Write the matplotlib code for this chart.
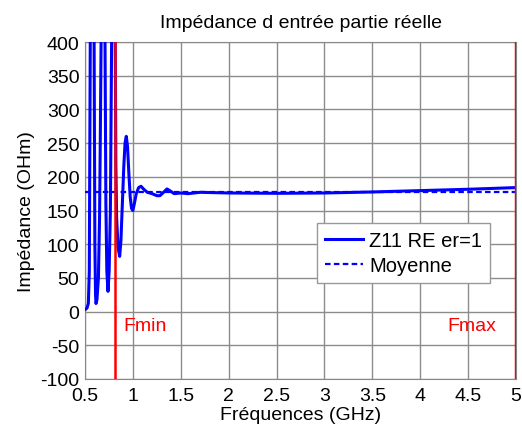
import matplotlib
matplotlib.use("Agg")
import matplotlib.pyplot as plt
from matplotlib.ticker import MultipleLocator

plt.rcParams["font.family"] = ["Liberation Sans", "DejaVu Sans"]
plt.rcParams["axes.unicode_minus"] = False

freq = [0.50, 0.52, 0.535, 0.545, 0.555, 0.565, 0.575, 0.585, 0.595, 0.603, 0.61, 0.615,
        0.625, 0.64, 0.652, 0.66, 0.668, 0.678, 0.688, 0.698, 0.709, 0.718, 0.728, 0.74,
        0.752, 0.765, 0.778, 0.79, 0.80, 0.81, 0.816, 0.822, 0.83, 0.845, 0.862, 0.875,
        0.89, 0.905, 0.918, 0.931, 0.944, 0.958, 0.972, 0.986, 1.0, 1.015, 1.035, 1.06,
        1.085, 1.11, 1.15, 1.2, 1.25, 1.283, 1.32, 1.356, 1.39, 1.43, 1.5, 1.575, 1.7,
        2.0, 2.5, 3.0, 3.5, 4.0, 4.5, 5.0]
z11_re = [3, 5, 12, 60, 400, 900, 1200, 900, 400, 100, 25, 12,
          18, 50, 140, 260, 400, 900, 1200, 900, 400, 160, 60, 30,
          60, 150, 400, 900, 1200, 800, 400, 220, 140, 95, 82, 105,
          160, 215, 250, 260, 245, 205, 170, 153, 150, 160, 175, 184,
          186, 182, 177, 175, 172, 172, 177, 182, 179, 175, 176, 175, 177,
          176, 175.5, 176, 177.5, 179.5, 181.5, 184]

moyenne = 177
f_min = 0.815
f_max = 5.0

fig = plt.figure(figsize=(5.22, 4.31), dpi=100)
ax = fig.add_axes([85 / 522, 51 / 431, 431 / 522, 337 / 431])

ax.plot(freq, z11_re, color="#0000ff", linewidth=2.2, label="Z11 RE er=1", zorder=3)
ax.axhline(moyenne, color="#0000ff", linewidth=1.6, linestyle=(0, (2.5, 1.5)),
           label="Moyenne", zorder=3)
ax.axvline(f_min, color="#ff0000", linewidth=1.8, zorder=4)
ax.axvline(f_max, color="#ff0000", linewidth=2.5, zorder=4)

ax.annotate("Fmin", xy=(f_min, -20), xytext=(6, 0), textcoords="offset points",
            color="#ff0000", fontsize=14, ha="left", va="center")
ax.annotate("Fmax", xy=(f_max, -20), xytext=(-14, 0), textcoords="offset points",
            color="#ff0000", fontsize=14, ha="right", va="center")

ax.set_xlim(0.5, 5)
ax.set_ylim(-100, 400)
ax.yaxis.set_major_locator(MultipleLocator(50))
ax.set_xticks([0.5, 1, 1.5, 2, 2.5, 3, 3.5, 4, 4.5, 5])
ax.set_xticklabels(["0.5", "1", "1.5", "2", "2.5", "3", "3.5", "4", "4.5", "5"])
ax.grid(True, color="#8c8c8c", linewidth=1.0)
ax.set_axisbelow(True)
ax.tick_params(axis="y", length=0, labelsize=14, pad=4)
ax.tick_params(axis="x", length=0, labelsize=14, pad=6)
for s in ax.spines.values():
    s.set_color("#888888")

ax.set_title("Impédance d entrée partie réelle", fontsize=14, pad=11)
ax.set_xlabel("Fréquences (GHz)", fontsize=14, labelpad=1)
ax.set_ylabel("Impédance (OHm)", fontsize=14, labelpad=4)

leg = ax.legend(loc="upper left", bbox_to_anchor=(232 / 431, 1 - 181 / 337),
                fontsize=14.5, fancybox=False, framealpha=1, edgecolor="#999999",
                handlelength=1.9, borderpad=0.4, labelspacing=0.3, handletextpad=0.3,
                borderaxespad=0)
leg.get_frame().set_linewidth(1.0)

fig.savefig("out.png", dpi=100)
